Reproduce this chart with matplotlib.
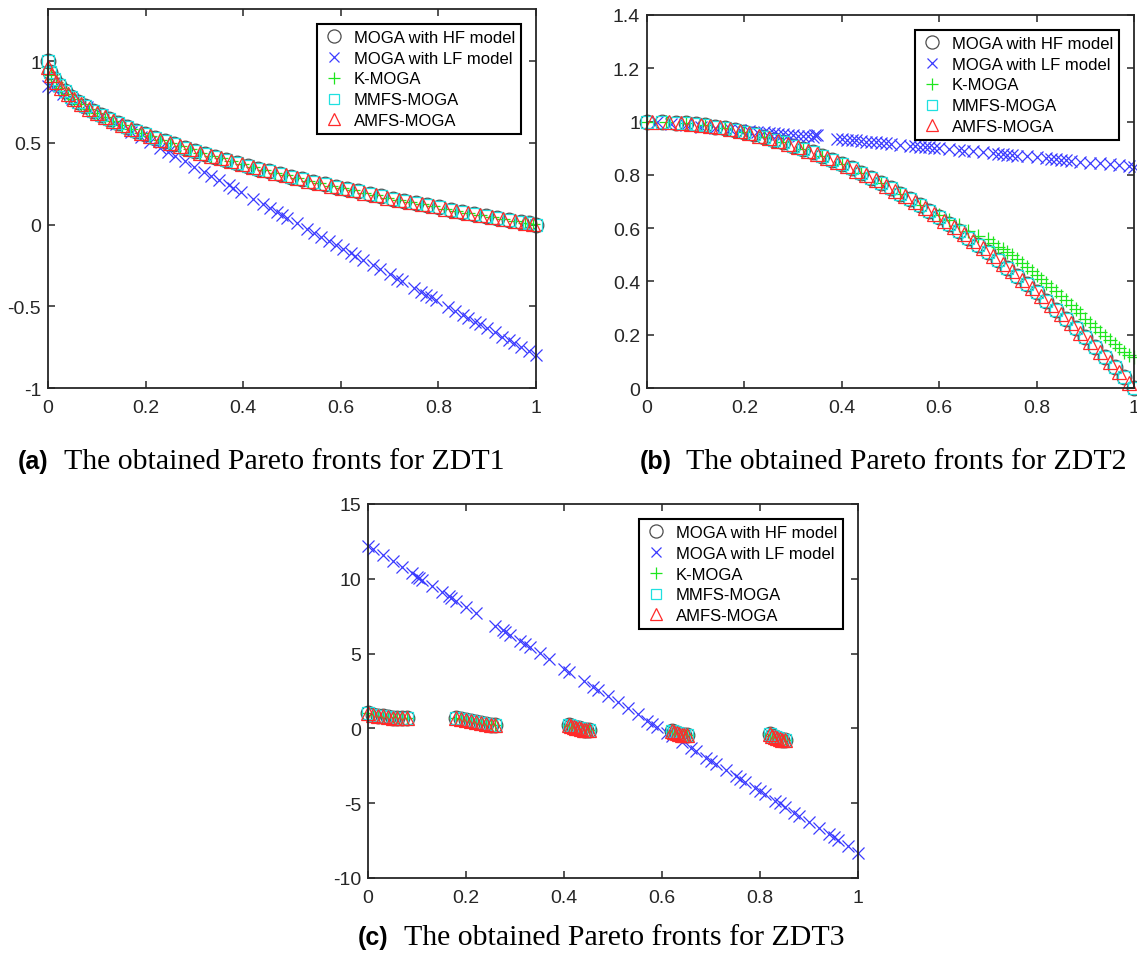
import matplotlib
matplotlib.use('Agg')
import matplotlib.pyplot as plt

# ---------------- data ----------------
series_names = ["MOGA with HF model", "MOGA with LF model", "K-MOGA", "MMFS-MOGA", "AMFS-MOGA"]

# ZDT1 true-front style points (set A: HF, MMFS; set B: K-MOGA, AMFS)
zdt1_xa = [0.0, 0.004, 0.012, 0.022, 0.034, 0.047, 0.061, 0.076, 0.092, 0.108, 0.125, 0.143, 0.161, 0.180,
           0.199, 0.219, 0.239, 0.259, 0.280, 0.301, 0.322, 0.343, 0.365, 0.387, 0.409, 0.431, 0.453, 0.476,
           0.498, 0.521, 0.544, 0.567, 0.590, 0.613, 0.636, 0.660, 0.683, 0.707, 0.730, 0.754, 0.777, 0.801,
           0.825, 0.849, 0.873, 0.897, 0.921, 0.945, 0.970, 0.985, 1.0]
zdt1_ya = [1.000, 0.937, 0.890, 0.852, 0.816, 0.783, 0.753, 0.724, 0.697, 0.671, 0.646, 0.622, 0.599, 0.576,
           0.554, 0.532, 0.511, 0.491, 0.471, 0.451, 0.433, 0.414, 0.396, 0.378, 0.360, 0.343, 0.327, 0.310,
           0.294, 0.278, 0.262, 0.247, 0.232, 0.217, 0.203, 0.188, 0.174, 0.159, 0.146, 0.132, 0.119, 0.105,
           0.092, 0.079, 0.066, 0.053, 0.040, 0.028, 0.015, 0.008, 0.000]
zdt1_xb = [0.001, 0.007, 0.016, 0.027, 0.040, 0.054, 0.068, 0.084, 0.100, 0.117, 0.134, 0.152, 0.170, 0.190,
           0.209, 0.229, 0.249, 0.270, 0.290, 0.312, 0.333, 0.354, 0.376, 0.398, 0.420, 0.442, 0.465, 0.487,
           0.510, 0.533, 0.556, 0.579, 0.602, 0.625, 0.648, 0.672, 0.695, 0.719, 0.742, 0.766, 0.789, 0.813,
           0.837, 0.861, 0.885, 0.909, 0.933, 0.957, 0.978, 0.993]
zdt1_yb = [0.968, 0.916, 0.874, 0.836, 0.800, 0.768, 0.739, 0.710, 0.684, 0.658, 0.634, 0.610, 0.588, 0.564,
           0.543, 0.521, 0.501, 0.480, 0.461, 0.441, 0.423, 0.405, 0.387, 0.369, 0.352, 0.335, 0.318, 0.302,
           0.286, 0.270, 0.254, 0.239, 0.224, 0.209, 0.195, 0.180, 0.166, 0.152, 0.139, 0.125, 0.112, 0.098,
           0.085, 0.072, 0.059, 0.047, 0.034, 0.022, 0.011, 0.004]
zdt1_lf_x = [0.0, 0.01, 0.03, 0.05, 0.08, 0.11, 0.14, 0.17, 0.19, 0.21, 0.23, 0.245, 0.26, 0.28, 0.30, 0.32,
             0.335, 0.35, 0.37, 0.38, 0.395, 0.42, 0.44, 0.455, 0.47, 0.48, 0.49, 0.51, 0.53, 0.545, 0.56,
             0.575, 0.59, 0.605, 0.62, 0.63, 0.645, 0.665, 0.68, 0.70, 0.715, 0.725, 0.75, 0.765, 0.775,
             0.785, 0.795, 0.82, 0.835, 0.85, 0.86, 0.875, 0.885, 0.90, 0.915, 0.93, 0.945, 0.955, 0.97,
             0.985, 1.0]
zdt1_lf_y = [0.850, 0.834, 0.800, 0.768, 0.718, 0.669, 0.619, 0.570, 0.537, 0.504, 0.471, 0.446, 0.421,
             0.388, 0.355, 0.322, 0.297, 0.273, 0.240, 0.223, 0.198, 0.157, 0.124, 0.099, 0.075, 0.058,
             0.042, 0.009, -0.025, -0.049, -0.074, -0.099, -0.124, -0.148, -0.173, -0.190, -0.214, -0.247,
             -0.272, -0.305, -0.330, -0.346, -0.388, -0.412, -0.429, -0.445, -0.462, -0.503, -0.528, -0.553,
             -0.569, -0.594, -0.610, -0.635, -0.660, -0.685, -0.709, -0.726, -0.751, -0.775, -0.800]

# ZDT2
zdt2_xa = [0.0, 0.03, 0.06, 0.08, 0.10, 0.12, 0.14, 0.16, 0.18, 0.20, 0.22, 0.24, 0.26, 0.28, 0.30, 0.32,
           0.34, 0.36, 0.38, 0.40, 0.42, 0.44, 0.46, 0.48, 0.50, 0.52, 0.54, 0.56, 0.58, 0.60, 0.62, 0.64,
           0.66, 0.68, 0.70, 0.72, 0.74, 0.76, 0.78, 0.80, 0.82, 0.84, 0.86, 0.88, 0.90, 0.92, 0.94, 0.96,
           0.98, 1.0]
zdt2_ya = [1.000, 0.999, 0.996, 0.994, 0.990, 0.986, 0.980, 0.974, 0.968, 0.960, 0.952, 0.942, 0.932, 0.922,
           0.910, 0.898, 0.884, 0.870, 0.856, 0.840, 0.824, 0.806, 0.788, 0.770, 0.750, 0.730, 0.708, 0.686,
           0.664, 0.640, 0.616, 0.590, 0.564, 0.538, 0.510, 0.482, 0.452, 0.422, 0.392, 0.360, 0.328, 0.294,
           0.260, 0.226, 0.190, 0.154, 0.116, 0.078, 0.040, 0.000]
zdt2_xb = [0.01, 0.045, 0.07, 0.09, 0.11, 0.13, 0.15, 0.17, 0.19, 0.21, 0.23, 0.25, 0.27, 0.29, 0.31, 0.33,
           0.35, 0.37, 0.39, 0.41, 0.43, 0.45, 0.47, 0.49, 0.51, 0.53, 0.55, 0.57, 0.59, 0.61, 0.63, 0.65,
           0.67, 0.69, 0.71, 0.73, 0.75, 0.77, 0.79, 0.81, 0.83, 0.85, 0.87, 0.89, 0.91, 0.93, 0.95, 0.97, 0.99]
zdt2_yb = [1.000, 0.998, 0.995, 0.992, 0.988, 0.983, 0.978, 0.971, 0.964, 0.956, 0.947, 0.938, 0.927, 0.916,
           0.904, 0.891, 0.878, 0.863, 0.848, 0.832, 0.815, 0.798, 0.779, 0.760, 0.740, 0.719, 0.698, 0.675,
           0.652, 0.628, 0.603, 0.578, 0.551, 0.524, 0.496, 0.467, 0.438, 0.407, 0.376, 0.344, 0.311, 0.278,
           0.243, 0.208, 0.172, 0.135, 0.098, 0.059, 0.020]
zdt2_k_x = [0.0, 0.04, 0.08, 0.12, 0.16, 0.20, 0.24, 0.28, 0.32, 0.36, 0.40, 0.44, 0.48, 0.52, 0.56, 0.60,
            0.62, 0.64, 0.66, 0.68, 0.70, 0.71, 0.72, 0.73, 0.74, 0.75, 0.76, 0.77, 0.78, 0.79, 0.80, 0.81,
            0.82, 0.83, 0.84, 0.85, 0.86, 0.87, 0.88, 0.89, 0.90, 0.91, 0.92, 0.93, 0.94, 0.95, 0.96, 0.97,
            0.98, 0.99, 1.0]
zdt2_k_y = [1.000, 0.998, 0.994, 0.986, 0.974, 0.960, 0.942, 0.922, 0.898, 0.870, 0.840, 0.806, 0.770, 0.730,
            0.686, 0.650, 0.630, 0.610, 0.590, 0.570, 0.560, 0.545, 0.530, 0.520, 0.510, 0.500, 0.485, 0.470,
            0.455, 0.440, 0.425, 0.410, 0.395, 0.380, 0.365, 0.345, 0.330, 0.310, 0.295, 0.280, 0.260, 0.245,
            0.230, 0.210, 0.195, 0.180, 0.165, 0.150, 0.135, 0.125, 0.115]
zdt2_lf_x = [0.02, 0.05, 0.08, 0.11, 0.14, 0.17, 0.19, 0.21, 0.225, 0.24, 0.25, 0.26, 0.27, 0.28, 0.29, 0.30,
             0.31, 0.32, 0.33, 0.34, 0.345, 0.35, 0.39, 0.40, 0.41, 0.42, 0.43, 0.44, 0.45, 0.46, 0.47, 0.48,
             0.49, 0.50, 0.52, 0.54, 0.55, 0.56, 0.57, 0.58, 0.59, 0.60, 0.62, 0.64, 0.65, 0.67, 0.69, 0.71,
             0.72, 0.73, 0.74, 0.75, 0.76, 0.78, 0.80, 0.82, 0.83, 0.84, 0.85, 0.86, 0.87, 0.89, 0.91, 0.93,
             0.95, 0.97, 0.99, 1.0]
zdt2_lf_y = [0.997, 0.992, 0.986, 0.981, 0.976, 0.971, 0.968, 0.964, 0.962, 0.959, 0.958, 0.956, 0.954, 0.952,
             0.951, 0.949, 0.947, 0.946, 0.944, 0.942, 0.950, 0.948, 0.936, 0.934, 0.932, 0.931, 0.929, 0.927,
             0.925, 0.924, 0.922, 0.920, 0.918, 0.917, 0.913, 0.910, 0.908, 0.906, 0.905, 0.903, 0.901, 0.900,
             0.896, 0.893, 0.891, 0.888, 0.884, 0.881, 0.879, 0.877, 0.876, 0.874, 0.872, 0.869, 0.866, 0.862,
             0.860, 0.859, 0.857, 0.855, 0.853, 0.850, 0.846, 0.843, 0.839, 0.836, 0.832, 0.830]

# ZDT3 (disconnected front segments)
zdt3_x = [0.0, 0.01, 0.02, 0.03, 0.04, 0.05, 0.06, 0.07, 0.08,
          0.18, 0.19, 0.20, 0.21, 0.22, 0.23, 0.24, 0.25, 0.26,
          0.41, 0.415, 0.42, 0.425, 0.43, 0.435, 0.44, 0.445, 0.45,
          0.62, 0.625, 0.63, 0.635, 0.64, 0.645, 0.65,
          0.82, 0.825, 0.83, 0.835, 0.84, 0.845, 0.85]
zdt3_y = [1.0, 0.897, 0.847, 0.803, 0.762, 0.726, 0.698, 0.678, 0.670,
          0.682, 0.623, 0.553, 0.477, 0.402, 0.334, 0.282, 0.250, 0.243,
          0.233, 0.167, 0.105, 0.048, -0.004, -0.048, -0.082, -0.107, -0.121,
          -0.151, -0.233, -0.304, -0.363, -0.409, -0.440, -0.456,
          -0.388, -0.491, -0.582, -0.658, -0.716, -0.754, -0.772]
zdt3_lf_x = [0.0, 0.01, 0.03, 0.05, 0.07, 0.09, 0.10, 0.105, 0.11, 0.13, 0.15, 0.165, 0.17, 0.18, 0.20, 0.22,
             0.26, 0.275, 0.28, 0.29, 0.31, 0.32, 0.33, 0.35, 0.37, 0.40, 0.41, 0.44, 0.46, 0.47, 0.49, 0.51,
             0.53, 0.55, 0.57, 0.58, 0.59, 0.61, 0.62, 0.64, 0.66, 0.67, 0.69, 0.70, 0.71, 0.73, 0.75, 0.76,
             0.77, 0.79, 0.80, 0.81, 0.83, 0.84, 0.85, 0.87, 0.88, 0.90, 0.92, 0.94, 0.95, 0.96, 0.98, 1.0]
zdt3_lf_y = [12.2, 12.0, 11.6, 11.2, 10.8, 10.4, 10.15, 10.05, 9.95, 9.54, 9.13, 8.82, 8.72, 8.51, 8.10, 7.69,
             6.87, 6.56, 6.46, 6.26, 5.85, 5.64, 5.44, 5.03, 4.62, 4.0, 3.80, 3.18, 2.77, 2.57, 2.16, 1.75,
             1.34, 0.93, 0.52, 0.31, 0.11, -0.31, -0.51, -0.92, -1.33, -1.54, -1.95, -2.15, -2.36, -2.77,
             -3.18, -3.38, -3.59, -4.0, -4.2, -4.41, -4.82, -5.02, -5.23, -5.64, -5.84, -6.25, -6.66, -7.07,
             -7.28, -7.48, -7.89, -8.3]

x_ticks = [0, 0.2, 0.4, 0.6, 0.8, 1]
x_ticklabels = ["0", "0.2", "0.4", "0.6", "0.8", "1"]
a_yticks = [-1, -0.5, 0, 0.5, 1]
a_yticklabels = ["-1", "-0.5", "0", "0.5", "1"]
b_yticks = [0, 0.2, 0.4, 0.6, 0.8, 1, 1.2, 1.4]
b_yticklabels = ["0", "0.2", "0.4", "0.6", "0.8", "1", "1.2", "1.4"]
c_yticks = [-10, -5, 0, 5, 10, 15]
c_yticklabels = ["-10", "-5", "0", "5", "10", "15"]

captions = [("(a)", "The obtained Pareto fronts for ZDT1"),
            ("(b)", "The obtained Pareto fronts for ZDT2"),
            ("(c)", "The obtained Pareto fronts for ZDT3")]

# ---------------- style ----------------
W, H = 1137, 962
fig = plt.figure(figsize=(W / 100, H / 100), dpi=100)
SANS = ["Liberation Sans", "DejaVu Sans"]
SERIF = ["Liberation Serif", "DejaVu Serif"]
DARK = "#262626"

styles = [
    dict(marker="o", color="#4d4d4d", ms=10.5),
    dict(marker="x", color="#3b3bff", ms=8),
    dict(marker="+", color="#1ee61e", ms=10),
    dict(marker="s", color="#1fe0e0", ms=8.5),
    dict(marker="^", color="#ff2a2a", ms=10),
]


def px_axes(l, t, r, b):
    return fig.add_axes([l / W, 1 - b / H, (r - l) / W, (b - t) / H])


def draw(ax, data, ylim, yticks, yticklabels):
    for (x, y), name, st in zip(data, series_names, styles):
        ax.plot(x, y, linestyle="none", marker=st["marker"], ms=st["ms"], mfc="none",
                mec=st["color"], mew=0.9, label=name, clip_on=False)
    ax.set_xlim(0, 1)
    ax.set_ylim(*ylim)
    ax.set_xticks(x_ticks)
    ax.set_xticklabels(x_ticklabels)
    ax.set_yticks(yticks)
    ax.set_yticklabels(yticklabels)
    ax.tick_params(direction="in", length=5, width=1.1, top=True, right=True,
                   labelsize=14, colors=DARK)
    ax.tick_params(axis="x", pad=8)
    ax.tick_params(axis="y", pad=5)
    for lab in ax.get_xticklabels() + ax.get_yticklabels():
        lab.set_family(SANS)
    for s in ax.spines.values():
        s.set_linewidth(1.3)
        s.set_color(DARK)
    leg = ax.legend(loc="upper right", prop={"family": SANS, "size": 12}, frameon=True,
                    fancybox=False, framealpha=1, edgecolor="black", borderaxespad=0.9,
                    handletextpad=0.55, handlelength=1.3, labelspacing=0.35, borderpad=0.35,
                    markerscale=0.9)
    leg.get_frame().set_linewidth(1.5)


ax_a = px_axes(48, 10, 536, 389)
draw(ax_a, [(zdt1_xa, zdt1_ya), (zdt1_lf_x, zdt1_lf_y), (zdt1_xb, zdt1_yb),
            (zdt1_xa, zdt1_ya), (zdt1_xb, zdt1_yb)],
     (-1, 1.32), a_yticks, a_yticklabels)

ax_b = px_axes(647, 16, 1134, 389)
draw(ax_b, [(zdt2_xa, zdt2_ya), (zdt2_lf_x, zdt2_lf_y), (zdt2_k_x, zdt2_k_y),
            (zdt2_xa, zdt2_ya), (zdt2_xb, zdt2_yb)],
     (0, 1.4), b_yticks, b_yticklabels)

ax_c = px_axes(368, 505, 858, 879)
draw(ax_c, [(zdt3_x, zdt3_y), (zdt3_lf_x, zdt3_lf_y), (zdt3_x, zdt3_y),
            (zdt3_x, zdt3_y), (zdt3_x, zdt3_y)],
     (-10, 15), c_yticks, c_yticklabels)

# captions
cap_pos = [(18, 462), (640, 462), (358, 938)]
for (tag, text), (x, y) in zip(captions, cap_pos):
    fig.text(x / W, 1 - y / H, tag, family=SANS, weight="bold", fontsize=18,
             ha="left", va="center", color="black")
    fig.text((x + 46) / W, 1 - y / H, text, family=SERIF, fontsize=21.5,
             ha="left", va="center", color="black")

fig.savefig("out.png", dpi=100)
